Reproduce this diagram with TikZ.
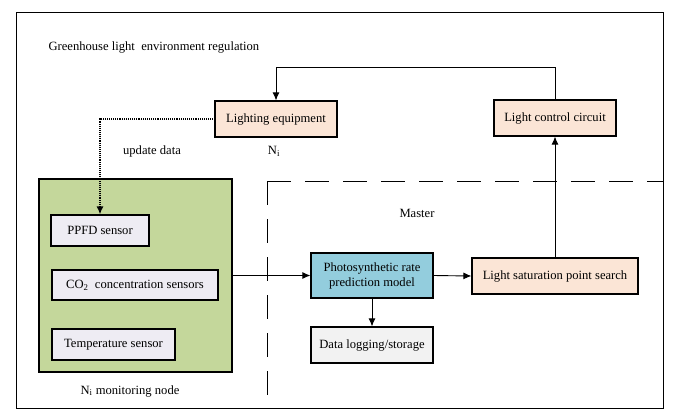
\documentclass[tikz,border=0pt]{standalone}
\usepackage{fontspec}
\setmainfont{Liberation Serif}
\usetikzlibrary{arrows.meta}

\definecolor{peach}{HTML}{FBE5D6}
\definecolor{leaf}{HTML}{C4D79B}
\definecolor{lilac}{HTML}{EEECF3}
\definecolor{sky}{HTML}{93CDDD}
\definecolor{ash}{HTML}{F2F2F2}

\tikzset{
  every node/.append style={font=\fontsize{12.6}{15}\selectfont},
  box/.style={draw, line width=1.2pt, inner sep=0pt, align=center},
  link/.style={line width=0.9pt, -{Latex[length=8pt,width=7pt]}},
}

\begin{document}
\begin{tikzpicture}[x=1pt, y=-1pt]
  \useasboundingbox (0,0) rectangle (684,418);
  \draw[line width=1pt] (16,12) rectangle (663,408);
  \node[anchor=west] (title) at (45,47) {Greenhouse light\ \ environment regulation};

  \node[box, fill=peach, minimum width=122pt, minimum height=36pt] (light) at (276,119) {Lighting equipment};
  \node[box, fill=peach, minimum width=122pt, minimum height=36pt] (ctrl) at (555,118) {Light control circuit};
  \node (upd) at (152,151) {update data};
  \node (ni) at (274,151) {N\textsubscript{i}};

  \node[box, fill=leaf, minimum width=193pt, minimum height=193pt] (monitor) at (135.5,275.5) {};
  \node[box, fill=lilac, minimum width=98pt, minimum height=31pt] (ppfd) at (100,230.5) {PPFD sensor};
  \node[box, fill=lilac, minimum width=166pt, minimum height=30pt] (co2) at (135,285) {CO\textsubscript{2}\ \ concentration sensors};
  \node[box, fill=lilac, minimum width=123pt, minimum height=31pt] (temp) at (113.5,344.5) {Temperature sensor};
  \node (mon) at (130,391) {N\textsubscript{i} monitoring node};

  \draw[line width=1pt, dash pattern=on 24pt off 14pt] (267,181) -- (663,181);
  \draw[line width=1pt, dash pattern=on 24pt off 14pt] (267,181) -- (267,408);
  \node (master) at (417,213) {Master};

  \node[box, fill=sky, minimum width=122pt, minimum height=45pt] (model) at (372,275.5) {Photosynthetic rate\\prediction model};
  \node[box, fill=peach, minimum width=166pt, minimum height=36pt] (search) at (555,276) {Light saturation point search};
  \node[box, fill=ash, minimum width=122pt, minimum height=36pt] (store) at (372,345) {Data logging/storage};

  \draw[link] (ctrl.north) -- ++(0,-32) -| (light.north);
  \draw[link, densely dotted, line width=1.4pt] (light.west) -| (ppfd.north);
  \draw[link] (monitor.east) -- (model.west);
  \draw[link] (model.east) -- (search.west);
  \draw[link] (search.north) -- (ctrl.south);
  \draw[link] (model.south) -- (store.north);
\end{tikzpicture}
\end{document}
